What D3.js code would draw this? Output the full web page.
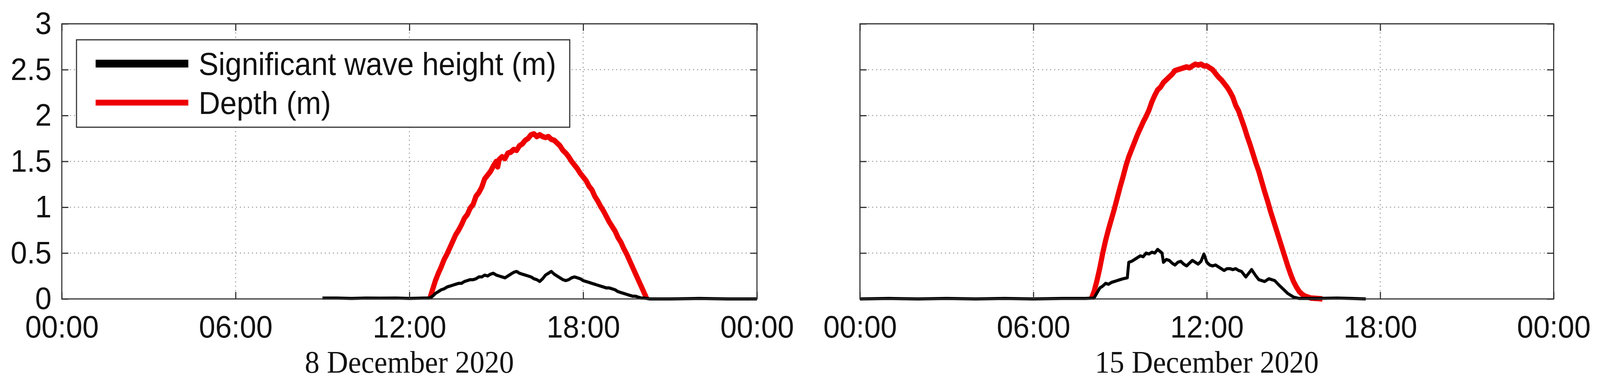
<!DOCTYPE html>
<html>
<head>
<meta charset="utf-8">
<script src="https://cdn.jsdelivr.net/npm/d3@7"></script>
<style>
  html, body { margin: 0; width: 100%; height: 100%; overflow: hidden; background: #fff; }
  #chart { width: 100vw; height: 100vh; }
  #chart svg { display: block; }
  .grid line { stroke: #9a9a9a; stroke-width: 2.5; stroke-dasharray: 3 8; }
  .frame { fill: none; stroke: #333; stroke-width: 3; }
  .axis path { display: none; }
  .axis line { stroke: #333; stroke-width: 3; }
  .axis text { font-family: "Liberation Sans", Arial, sans-serif; font-size: 80px; fill: #111; }
  .date-label { font-family: "Liberation Serif", "Times New Roman", serif; font-size: 80px; fill: #111; }
  .legend-text { font-family: "Liberation Sans", Arial, sans-serif; font-size: 81px; fill: #111; }
</style>
</head>
<body>
<div id="chart"></div>
<script>
// hours of the day and values

// 8 December 2020
const dec8HsTime = [9.0, 9.5, 10.0, 10.5, 11.0, 11.5, 12.0, 12.5, 12.7, 12.8, 12.9, 13.0, 13.1, 13.2, 13.3, 13.4, 13.5, 13.6, 13.7, 13.8, 13.9, 14.0, 14.1, 14.2, 14.3, 14.4, 14.5, 14.6, 14.7, 14.8, 14.9, 15.0, 15.1, 15.2, 15.3, 15.4, 15.5, 15.6, 15.7, 15.8, 15.9, 16.0, 16.1, 16.2, 16.3, 16.4, 16.5, 16.6, 16.7, 16.8, 16.9, 17.0, 17.1, 17.2, 17.3, 17.4, 17.5, 17.6, 17.7, 17.8, 17.9, 18.0, 18.1, 18.2, 18.3, 18.4, 18.5, 18.6, 18.7, 18.8, 18.9, 19.0, 19.1, 19.2, 19.3, 19.4, 19.5, 19.6, 19.7, 19.8, 19.9, 20.0, 20.1, 20.3, 21.0, 22.0, 23.0, 24.0];
const dec8Hs = [0.01, 0.01, 0.005, 0.01, 0.008, 0.01, 0.005, 0.01, 0.01, 0.03, 0.06, 0.08, 0.10, 0.11, 0.13, 0.14, 0.15, 0.16, 0.17, 0.17, 0.19, 0.20, 0.21, 0.21, 0.22, 0.24, 0.24, 0.26, 0.25, 0.27, 0.28, 0.26, 0.25, 0.24, 0.23, 0.25, 0.27, 0.29, 0.30, 0.28, 0.27, 0.26, 0.25, 0.24, 0.22, 0.21, 0.19, 0.22, 0.26, 0.28, 0.30, 0.27, 0.25, 0.23, 0.21, 0.20, 0.21, 0.23, 0.24, 0.23, 0.22, 0.20, 0.19, 0.18, 0.17, 0.16, 0.15, 0.14, 0.13, 0.12, 0.12, 0.11, 0.10, 0.08, 0.07, 0.06, 0.05, 0.04, 0.03, 0.03, 0.02, 0.01, 0.01, 0.0, 0.0, 0.005, 0.0, 0.0];

const dec8DepthTime = [12.7, 12.8, 12.9, 13.0, 13.1, 13.2, 13.3, 13.4, 13.5, 13.6, 13.7, 13.8, 13.9, 14.0, 14.1, 14.2, 14.3, 14.4, 14.5, 14.6, 14.7, 14.8, 14.9, 15.0, 15.05, 15.1, 15.2, 15.3, 15.4, 15.5, 15.6, 15.7, 15.8, 15.9, 16.0, 16.1, 16.2, 16.3, 16.4, 16.5, 16.6, 16.7, 16.8, 16.9, 17.0, 17.1, 17.2, 17.3, 17.4, 17.5, 17.6, 17.7, 17.8, 17.9, 18.0, 18.1, 18.2, 18.3, 18.4, 18.5, 18.6, 18.7, 18.8, 18.9, 19.0, 19.1, 19.2, 19.3, 19.4, 19.5, 19.6, 19.7, 19.8, 19.9, 20.0, 20.1, 20.2];
const dec8Depth = [0.0, 0.10, 0.20, 0.28, 0.35, 0.43, 0.49, 0.56, 0.63, 0.70, 0.75, 0.81, 0.88, 0.92, 0.99, 1.03, 1.12, 1.16, 1.22, 1.31, 1.35, 1.39, 1.45, 1.50, 1.44, 1.52, 1.55, 1.53, 1.59, 1.60, 1.63, 1.62, 1.67, 1.69, 1.73, 1.75, 1.79, 1.80, 1.77, 1.79, 1.77, 1.76, 1.77, 1.74, 1.73, 1.70, 1.67, 1.62, 1.59, 1.55, 1.50, 1.46, 1.42, 1.37, 1.33, 1.29, 1.23, 1.19, 1.12, 1.07, 1.01, 0.96, 0.90, 0.84, 0.79, 0.74, 0.67, 0.62, 0.55, 0.49, 0.42, 0.35, 0.28, 0.21, 0.14, 0.07, 0.0];

// 15 December 2020
const dec15HsTime = [0, 1, 2, 3, 4, 5, 6, 7, 7.8, 8.1, 8.3, 8.4, 8.5, 8.6, 8.7, 8.8, 8.9, 9.0, 9.1, 9.25, 9.3, 9.4, 9.5, 9.6, 9.7, 9.8, 9.9, 10.0, 10.1, 10.2, 10.3, 10.45, 10.5, 10.6, 10.7, 10.8, 10.9, 11.0, 11.1, 11.2, 11.3, 11.4, 11.5, 11.6, 11.7, 11.8, 11.9, 12.0, 12.1, 12.2, 12.3, 12.4, 12.5, 12.6, 12.7, 12.8, 12.9, 13.0, 13.1, 13.2, 13.35, 13.45, 13.55, 13.7, 13.8, 13.9, 14.0, 14.15, 14.35, 14.5, 14.6, 14.7, 14.8, 14.9, 15.0, 15.2, 15.8, 16.5, 17.0, 17.5];
const dec15Hs = [0, 0.005, 0, 0.005, 0, 0.005, 0, 0.005, 0.005, 0.01, 0.12, 0.14, 0.17, 0.16, 0.18, 0.19, 0.20, 0.21, 0.22, 0.23, 0.40, 0.41, 0.43, 0.45, 0.47, 0.46, 0.50, 0.49, 0.51, 0.50, 0.54, 0.50, 0.40, 0.43, 0.42, 0.39, 0.37, 0.40, 0.41, 0.38, 0.36, 0.39, 0.42, 0.40, 0.38, 0.41, 0.49, 0.40, 0.37, 0.36, 0.37, 0.35, 0.33, 0.31, 0.33, 0.33, 0.32, 0.33, 0.31, 0.30, 0.24, 0.28, 0.32, 0.25, 0.21, 0.20, 0.19, 0.22, 0.20, 0.15, 0.12, 0.09, 0.06, 0.04, 0.02, 0.005, 0.005, 0.01, 0.005, 0.0];

const dec15DepthTime = [8.0, 8.1, 8.2, 8.3, 8.4, 8.5, 8.6, 8.7, 8.8, 8.9, 9.0, 9.1, 9.2, 9.3, 9.4, 9.5, 9.6, 9.7, 9.8, 9.9, 10.0, 10.1, 10.2, 10.3, 10.4, 10.5, 10.6, 10.7, 10.8, 10.9, 11.0, 11.1, 11.2, 11.3, 11.4, 11.5, 11.6, 11.7, 11.8, 11.9, 12.0, 12.1, 12.2, 12.3, 12.4, 12.5, 12.6, 12.7, 12.8, 12.9, 13.0, 13.1, 13.2, 13.3, 13.4, 13.5, 13.6, 13.7, 13.8, 13.9, 14.0, 14.1, 14.2, 14.3, 14.4, 14.5, 14.6, 14.7, 14.8, 14.9, 15.0, 15.1, 15.2, 15.3, 15.4, 15.6, 15.8, 16.0];
const dec15Depth = [0.0, 0.08, 0.20, 0.34, 0.50, 0.64, 0.76, 0.87, 0.98, 1.10, 1.22, 1.33, 1.45, 1.55, 1.63, 1.71, 1.79, 1.86, 1.93, 1.99, 2.06, 2.15, 2.22, 2.28, 2.31, 2.36, 2.39, 2.42, 2.45, 2.49, 2.50, 2.51, 2.52, 2.53, 2.52, 2.54, 2.56, 2.55, 2.56, 2.54, 2.54, 2.52, 2.50, 2.46, 2.42, 2.39, 2.35, 2.31, 2.26, 2.20, 2.11, 2.05, 1.96, 1.87, 1.77, 1.68, 1.58, 1.48, 1.39, 1.28, 1.17, 1.07, 0.96, 0.86, 0.76, 0.66, 0.56, 0.46, 0.36, 0.27, 0.19, 0.13, 0.08, 0.05, 0.03, 0.01, 0.005, 0.0];

// ticks and labels
const xTicks = [0, 6, 12, 18, 24];
const xTickLabels = ['00:00', '06:00', '12:00', '18:00', '00:00'];
const yTicks = [0, 0.5, 1, 1.5, 2, 2.5, 3];
const yTickLabels = ['0', '0.5', '1', '1.5', '2', '2.5', '3'];
const legendLabels = ['Significant wave height (m)', 'Depth (m)'];
const panelTitles = ['8 December 2020', '15 December 2020'];

const colors = { hs: '#000', depth: '#ee0000' };

const width = 4350;
const height = 984;
const plotTop = 61;
const plotBottom = 766;
const panels = [
  { left: 168, right: 2058, title: panelTitles[0], showY: true, legend: true,
    hs: { t: dec8HsTime, v: dec8Hs }, depth: { t: dec8DepthTime, v: dec8Depth } },
  { left: 2338, right: 4224, title: panelTitles[1], showY: false, legend: false,
    hs: { t: dec15HsTime, v: dec15Hs }, depth: { t: dec15DepthTime, v: dec15Depth } },
];

// the svg is stretched over the whole window, whatever its real size
const svg = d3.select('#chart')
  .append('svg')
    .attr('width', '100%')
    .attr('height', '100%')
    .attr('viewBox', `0 0 ${width} ${height}`)
    .attr('preserveAspectRatio', 'none');

svg.append('rect')
  .attr('width', width)
  .attr('height', height)
  .attr('fill', '#fff');

const tickLen = 18;

const drawPanel = (p) => {
  const x = d3.scaleLinear().domain([0, 24]).range([p.left, p.right]);
  const y = d3.scaleLinear().domain([0, 3]).range([plotBottom, plotTop]);
  const g = svg.append('g');

  // grid
  const grid = g.append('g').attr('class', 'grid');
  grid.selectAll('.gx')
    .data(xTicks.slice(1, -1))
    .join('line')
      .attr('x1', d => x(d)).attr('x2', d => x(d))
      .attr('y1', plotTop).attr('y2', plotBottom);
  grid.selectAll('.gy')
    .data(yTicks.slice(1, -1))
    .join('line')
      .attr('x1', p.left).attr('x2', p.right)
      .attr('y1', d => y(d)).attr('y2', d => y(d));

  // series
  const line = d3.line()
    .x(d => x(d[0]))
    .y(d => y(d[1]));

  g.append('path')
    .datum(d3.zip(p.depth.t, p.depth.v))
    .attr('d', line)
    .attr('fill', 'none')
    .attr('stroke', colors.depth)
    .attr('stroke-width', 14)
    .attr('stroke-linejoin', 'round');

  g.append('path')
    .datum(d3.zip(p.hs.t, p.hs.v))
    .attr('d', line)
    .attr('fill', 'none')
    .attr('stroke', colors.hs)
    .attr('stroke-width', 8)
    .attr('stroke-linejoin', 'round');

  // axes, ticks pointing inward like matlab
  g.append('g')
    .attr('class', 'axis')
    .attr('transform', `translate(0,${plotBottom})`)
    .call(d3.axisBottom(x)
      .tickValues(xTicks)
      .tickFormat((d, i) => xTickLabels[i])
      .tickSizeInner(-tickLen)
      .tickSizeOuter(0)
      .tickPadding(42));

  g.append('g')
    .attr('class', 'axis')
    .attr('transform', `translate(0,${plotTop})`)
    .call(d3.axisTop(x)
      .tickValues(xTicks)
      .tickFormat('')
      .tickSizeInner(-tickLen)
      .tickSizeOuter(0));

  g.append('g')
    .attr('class', 'axis')
    .attr('transform', `translate(${p.left},0)`)
    .call(d3.axisLeft(y)
      .tickValues(yTicks)
      .tickFormat((d, i) => p.showY ? yTickLabels[i] : '')
      .tickSizeInner(-tickLen)
      .tickSizeOuter(0)
      .tickPadding(28));

  g.append('g')
    .attr('class', 'axis')
    .attr('transform', `translate(${p.right},0)`)
    .call(d3.axisRight(y)
      .tickValues(yTicks)
      .tickFormat('')
      .tickSizeInner(-tickLen)
      .tickSizeOuter(0));

  g.append('rect')
    .attr('class', 'frame')
    .attr('x', p.left)
    .attr('y', plotTop)
    .attr('width', p.right - p.left)
    .attr('height', plotBottom - plotTop);

  // date under the axis
  g.append('text')
    .attr('class', 'date-label')
    .attr('x', (p.left + p.right) / 2)
    .attr('y', 955)
    .attr('text-anchor', 'middle')
    .text(p.title);

  if (p.legend) {
    const lg = g.append('g').attr('transform', `translate(${p.left + 40},102)`);
    lg.append('rect')
      .attr('width', 1341)
      .attr('height', 224)
      .attr('fill', '#fff')
      .attr('stroke', '#333')
      .attr('stroke-width', 3);
    const items = [
      { label: legendLabels[0], color: colors.hs, w: 20, y: 61 },
      { label: legendLabels[1], color: colors.depth, w: 15, y: 161 },
    ];
    items.forEach(item => {
      lg.append('line')
        .attr('x1', 52).attr('x2', 304)
        .attr('y1', item.y).attr('y2', item.y)
        .attr('stroke', item.color)
        .attr('stroke-width', item.w);
      lg.append('text')
        .attr('class', 'legend-text')
        .attr('x', 332)
        .attr('y', item.y + 29)
        .text(item.label);
    });
  }
};

panels.forEach(drawPanel);
</script>
</body>
</html>
